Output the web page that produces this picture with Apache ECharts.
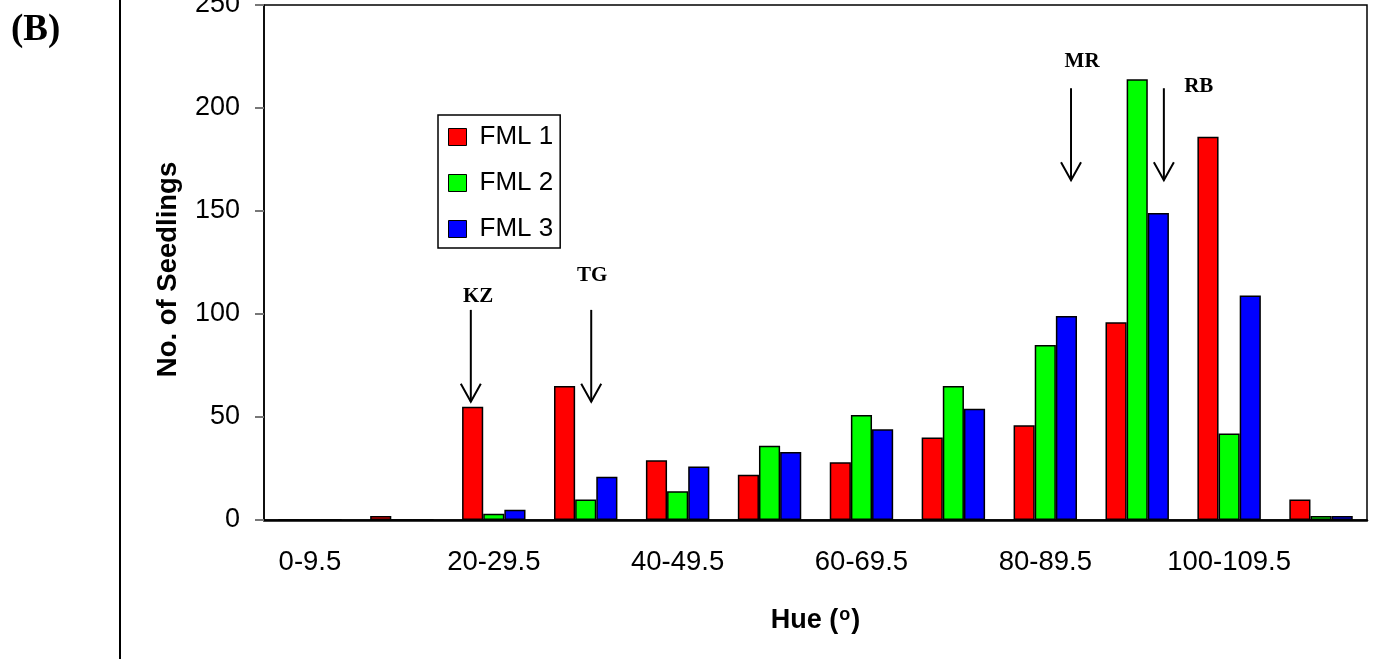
<!DOCTYPE html>
<html>
<head>
<meta charset="utf-8">
<script src="https://cdn.jsdelivr.net/npm/echarts@6/dist/echarts.min.js"></script>
<style>
  html, body { margin: 0; padding: 0; background: #fff; }
  #chart { width: 1374px; height: 659px; }
</style>
</head>
<body>
<div id="chart"></div>
<script>
// Hue classes (degrees) and seedling counts per family line
const categories = ['0-9.5', '10-19.5', '20-29.5', '30-39.5', '40-49.5', '50-59.5',
                    '60-69.5', '70-79.5', '80-89.5', '90-99.5', '100-109.5', '110-119.5'];
const fml1 = [0, 2, 55, 65, 29, 22, 28, 40, 46, 96, 186, 10];
const fml2 = [0, 0, 3, 10, 14, 36, 51, 65, 85, 214, 42, 2];
const fml3 = [0, 0, 5, 21, 26, 33, 44, 54, 99, 149, 109, 2];
const yTicks = [0, 50, 100, 150, 200, 250];

// Parent cultivars marked on the hue scale:
// hue of the arrow, arrow start / tip (count units), label hue / count position
const parentNames = ['KZ', 'TG', 'MR', 'RB'];
const parentHue = [22.5, 35.6, 87.8, 97.9];
const arrowFrom = [102, 102, 209.6, 209.6];
const arrowTo = [57.4, 57.4, 164.9, 164.9];
const labelHue = [23.3, 35.7, 89.0, 101.7];
const labelAt = [108.5, 118.7, 222.3, 210.6];

const SANS = '"Liberation Sans", Arial, sans-serif';
const SERIF = '"Liberation Serif", "Times New Roman", serif';

const chart = echarts.init(document.getElementById('chart'), null, { renderer: 'canvas' });

const arrowData = parentNames.map((n, i) => ({
  name: n,
  value: [parentHue[i], arrowFrom[i], arrowTo[i], labelHue[i], labelAt[i]]
}));

function renderArrow(params, api) {
  const p0 = api.coord([api.value(0), api.value(1)]);
  const p1 = api.coord([api.value(0), api.value(2)]);
  const pl = api.coord([api.value(3), api.value(4)]);
  const name = parentNames[params.dataIndex];
  return {
    type: 'group',
    children: [
      { type: 'line', shape: { x1: p0[0], y1: p0[1], x2: p1[0], y2: p1[1] },
        style: { stroke: '#000', lineWidth: 2 } },
      { type: 'polyline',
        shape: { points: [[p1[0] - 10, p1[1] - 18], [p1[0], p1[1]], [p1[0] + 10, p1[1] - 18]] },
        style: { stroke: '#000', lineWidth: 2, fill: null } },
      { type: 'text',
        style: { text: name, x: pl[0], y: pl[1], align: 'center', verticalAlign: 'middle',
                 font: 'bold 21px ' + SERIF, fill: '#000' } }
    ]
  };
}

const barStyle = (color) => ({ color: color, borderColor: '#000', borderWidth: 1.5 });

chart.setOption({
  animation: false,
  backgroundColor: '#fff',
  textStyle: { fontFamily: SANS, color: '#000' },
  grid: {
    left: 264, top: 5, width: 1103, height: 515,
    outerBoundsMode: 'none', containLabel: false,
    show: true, borderColor: '#000', borderWidth: 1.5, backgroundColor: 'transparent'
  },
  legend: {
    data: ['FML 1', 'FML 2', 'FML 3'],
    orient: 'vertical',
    left: 438, top: 115,
    padding: [9, 7, 6, 10],
    itemWidth: 18, itemHeight: 17, itemGap: 20,
    icon: 'rect',
    borderColor: '#000', borderWidth: 1.5,
    itemStyle: { borderColor: '#000', borderWidth: 1 },
    textStyle: { fontSize: 26, fontFamily: SANS, color: '#000', padding: [0, 0, 0, 8] }
  },
  xAxis: [
    {
      type: 'category',
      data: categories,
      axisLine: { lineStyle: { color: '#000', width: 2.5 } },
      axisTick: { show: false },
      axisLabel: { interval: 1, fontSize: 27.5, color: '#000', margin: 28, fontFamily: SANS },
      name: 'Hue ({sup|o})',
      nameLocation: 'middle',
      nameGap: 86,
      nameTextStyle: {
        fontSize: 27, fontWeight: 'bold', color: '#000', fontFamily: SANS,
        rich: { sup: { fontSize: 18, fontWeight: 'bold', fontFamily: SANS, color: '#000',
                       verticalAlign: 'bottom', padding: [0, 1, 12, 1] } }
      }
    },
    {
      type: 'value', min: 0, max: 120, show: false
    }
  ],
  yAxis: {
    type: 'value',
    min: yTicks[0], max: yTicks[yTicks.length - 1], interval: 50,
    axisLine: { show: true, lineStyle: { color: '#000', width: 1.5 } },
    axisTick: { show: true, length: 9, lineStyle: { color: '#777', width: 2 } },
    axisLabel: { fontSize: 27, color: '#000', margin: 24, fontFamily: SANS },
    splitLine: { show: false },
    name: 'No. of Seedlings',
    nameLocation: 'middle',
    nameGap: 82,
    nameTextStyle: { fontSize: 27.5, fontWeight: 'bold', color: '#000', fontFamily: SANS,
                     padding: [0, 14, 0, 0] }
  },
  series: [
    { name: 'FML 1', type: 'bar', data: fml1, itemStyle: barStyle('#ff0000'),
      barGap: '0%', barCategoryGap: '31%' },
    { name: 'FML 2', type: 'bar', data: fml2, itemStyle: barStyle('#00ff00'),
      barGap: '0%', barCategoryGap: '31%' },
    { name: 'FML 3', type: 'bar', data: fml3, itemStyle: barStyle('#0000ff'),
      barGap: '0%', barCategoryGap: '31%' },
    { name: 'parents', type: 'custom', xAxisIndex: 1, yAxisIndex: 0,
      data: arrowData, renderItem: renderArrow, clip: false, z: 5,
      encode: { x: [0, 3], y: [1, 2, 4] }, silent: true }
  ],
  graphic: [
    { type: 'text', left: 11, top: 12,
      style: { text: '(B)', font: 'bold 37px ' + SERIF, fill: '#000' } },
    { type: 'line', shape: { x1: 120, y1: 0, x2: 120, y2: 659 },
      style: { stroke: '#000', lineWidth: 2 } }
  ]
});
</script>
</body>
</html>
